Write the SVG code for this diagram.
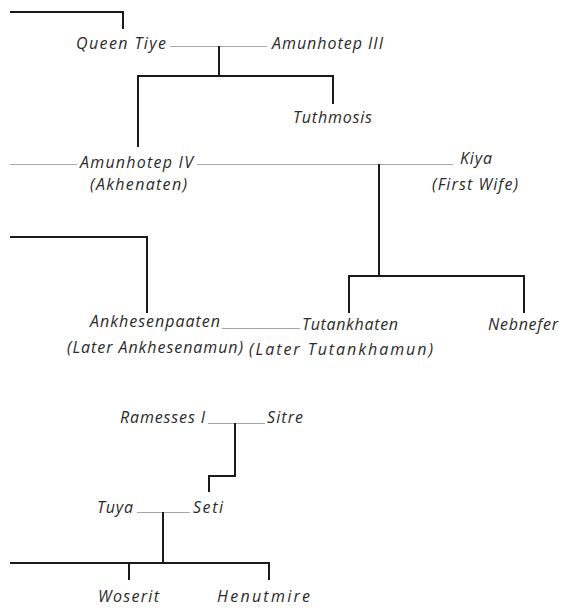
<svg xmlns="http://www.w3.org/2000/svg" width="563" height="608" viewBox="0 0 563 608">
<style>
.bg{fill:#ffffff}
.t{font-family:"Open Sans","Noto Sans","DejaVu Sans",sans-serif;font-style:italic;font-size:16px;fill:#2a2a2a}
.thin{stroke:#a8a8a8;stroke-width:1;fill:none}
.thick{stroke:#1a1a1a;stroke-width:2;fill:none}
</style>
<rect class="bg" width="563" height="608"/>
<g id="connectors">
  <path class="thin" d="M170,46.5H267M10,164.5H77M197,164.5H453M222,328.5H300M208,423.5H265M137,512.5H190"/>
  <path class="thick" d="M10,12H123V29"/>
  <path class="thick" d="M219,46V76"/>
  <path class="thick" d="M138,147V76H333V104"/>
  <path class="thick" d="M379,164V276"/>
  <path class="thick" d="M349,313V276H524V313"/>
  <path class="thick" d="M10,237H147V313"/>
  <path class="thick" d="M235,423V476H209V492"/>
  <path class="thick" d="M163,512V563"/>
  <path class="thick" d="M10,563H269V580"/>
  <path class="thick" d="M129,563V580"/>
</g>
<g id="queen-tiye"><text class="t" x="76" y="49" textLength="90">Queen Tiye</text></g>
<g id="amunhotep-iii"><text class="t" x="272" y="49" textLength="111">Amunhotep III</text></g>
<g id="tuthmosis"><text class="t" x="293" y="123" textLength="79">Tuthmosis</text></g>
<g id="amunhotep-iv"><text class="t" x="80" y="168" textLength="113">Amunhotep IV</text><text class="t" x="90" y="190" textLength="97">(Akhenaten)</text></g>
<g id="kiya"><text class="t" x="460" y="164" textLength="32">Kiya</text><text class="t" x="432" y="190" textLength="86">(First Wife)</text></g>
<g id="ankhesenpaaten"><text class="t" x="90" y="327" textLength="130">Ankhesenpaaten</text><text class="t" x="67" y="353" textLength="176">(Later Ankhesenamun)</text></g>
<g id="tutankhaten"><text class="t" x="302" y="330" textLength="96">Tutankhaten</text><text class="t" x="249" y="355" textLength="184">(Later Tutankhamun)</text></g>
<g id="nebnefer"><text class="t" x="488" y="330" textLength="70">Nebnefer</text></g>
<g id="ramesses-i"><text class="t" x="120" y="423" textLength="85">Ramesses I</text></g>
<g id="sitre"><text class="t" x="267" y="423" textLength="36">Sitre</text></g>
<g id="tuya"><text class="t" x="97" y="513" textLength="36">Tuya</text></g>
<g id="seti"><text class="t" x="193" y="513" textLength="30">Seti</text></g>
<g id="woserit"><text class="t" x="98" y="602" textLength="61">Woserit</text></g>
<g id="henutmire"><text class="t" x="217" y="602" textLength="93">Henutmire</text></g>
</svg>
